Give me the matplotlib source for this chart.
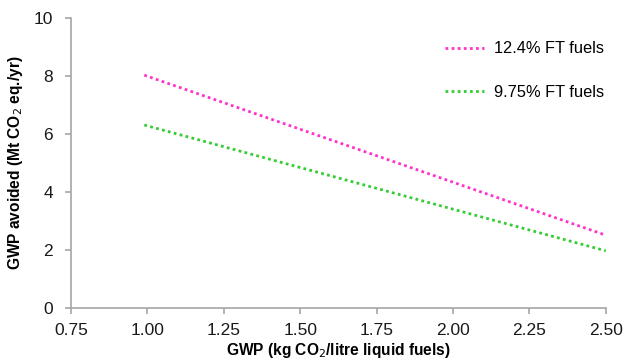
import matplotlib
matplotlib.use("Agg")
import matplotlib.pyplot as plt

plt.rcParams['font.family'] = ['Liberation Sans', 'DejaVu Sans']

gwp = [0.99, 2.50]
ft124 = [8.03, 2.51]
ft975 = [6.31, 1.97]
labels = ['12.4% FT fuels', '9.75% FT fuels']
xticks = [0.75, 1.00, 1.25, 1.50, 1.75, 2.00, 2.25, 2.50]
yticks = [0, 2, 4, 6, 8, 10]

fig = plt.figure(figsize=(6.39, 3.61), dpi=100)
ax = fig.add_axes([0.111, 0.147, 0.837, 0.803])

ax.plot(gwp, ft124, linestyle=(0, (1, 1.2)), color='#ff33cc', lw=2, label=labels[0])
ax.plot(gwp, ft975, linestyle=(0, (1, 1.2)), color='#33cc33', lw=2, label=labels[1])

ax.set_xlim(0.75, 2.50)
ax.set_ylim(0, 10)
ax.set_xticks(xticks)
ax.set_xticklabels([f'{v:.2f}' for v in xticks])
ax.set_yticks(yticks)

for s in ['top', 'right']:
    ax.spines[s].set_visible(False)
for s in ['left', 'bottom']:
    ax.spines[s].set_color('#a6a6a6')
    ax.spines[s].set_linewidth(1.2)
ax.tick_params(axis='both', colors='#a6a6a6', labelcolor='#1a1a1a', labelsize=12.5, length=4, width=1.2)
ax.tick_params(axis='x', pad=7)
ax.tick_params(axis='y', pad=9)

ax.set_xlabel('GWP (kg CO$_2$/litre liquid fuels)', fontsize=11.2, fontweight='bold', labelpad=2)
ax.set_ylabel('GWP avoided (Mt CO$_2$ eq./yr)', fontsize=11.2, fontweight='bold', labelpad=6)

leg = ax.legend(loc='upper right', bbox_to_anchor=(1.025, 0.97), frameon=False, fontsize=11.8,
                labelspacing=1.75, handlelength=2.4, handletextpad=0.6)

fig.savefig('out.png', dpi=100)
